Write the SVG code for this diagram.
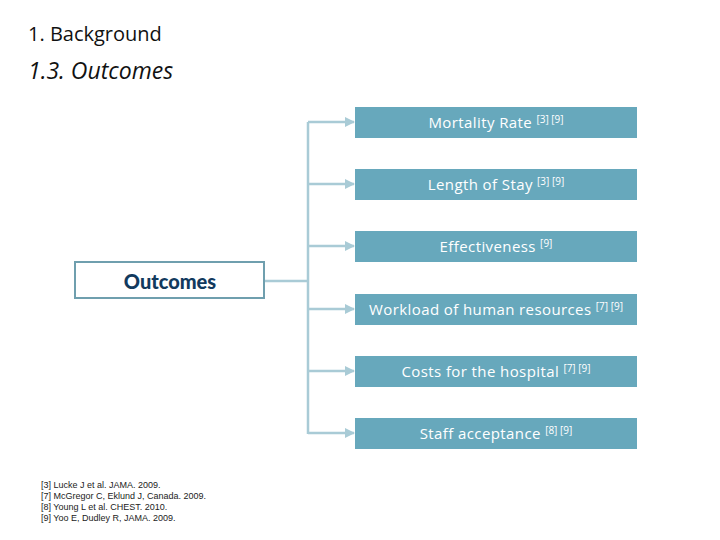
<svg xmlns="http://www.w3.org/2000/svg" width="720" height="540" viewBox="0 0 720 540">
<style>
.box{fill:#67a8bc}
.bt{font-family:"Open Sans","DejaVu Sans",sans-serif;font-size:15px;letter-spacing:0.4px;fill:#fff;text-anchor:middle}
.sup{font-size:10px;letter-spacing:0}
.ln{stroke:#a9cbd6;stroke-width:2.5;fill:none}
.ref{font-family:"Liberation Sans",sans-serif;font-size:9px;fill:#222}
</style>
<defs><marker id="ar" viewBox="0 0 10 10" refX="9" refY="5" markerWidth="4" markerHeight="4" orient="auto"><path d="M0,0L10,5L0,10z" fill="#a9cbd6"/></marker></defs>
<rect width="720" height="540" fill="#fff"/>
<text x="28" y="41" font-family="Open Sans,DejaVu Sans,sans-serif" font-size="20" fill="#111">1. Background</text>
<text x="28" y="79" font-family="Open Sans,DejaVu Sans,sans-serif" font-size="23" font-style="italic" fill="#111">1.3. Outcomes</text>
<g id="connectors">
<path class="ln" d="M264,281H308M308,122V434"/>
<path class="ln" marker-end="url(#ar)" d="M308,122H354"/>
<path class="ln" marker-end="url(#ar)" d="M308,184H354"/>
<path class="ln" marker-end="url(#ar)" d="M308,246H354"/>
<path class="ln" marker-end="url(#ar)" d="M308,309H354"/>
<path class="ln" marker-end="url(#ar)" d="M308,371H354"/>
<path class="ln" marker-end="url(#ar)" d="M308,433H354"/>
</g>
<g id="outcomes"><rect x="75" y="262" width="189" height="36" fill="#fff" stroke="#6f9fae" stroke-width="2"/><text x="170" y="289" text-anchor="middle" font-family="Lato,DejaVu Sans,sans-serif" font-weight="900" font-size="20" fill="#123a5e">Outcomes</text></g>
<g id="n1"><rect class="box" x="355" y="107" width="282" height="31"/><text class="bt" x="496" y="128">Mortality Rate <tspan class="sup" dy="-5">[3] [9]</tspan></text></g>
<g id="n2"><rect class="box" x="355" y="169" width="282" height="31"/><text class="bt" x="496" y="190">Length of Stay <tspan class="sup" dy="-5">[3] [9]</tspan></text></g>
<g id="n3"><rect class="box" x="355" y="231" width="282" height="31"/><text class="bt" x="496" y="252">Effectiveness  <tspan class="sup" dy="-5">[9]</tspan></text></g>
<g id="n4"><rect class="box" x="355" y="294" width="282" height="31"/><text class="bt" x="496" y="315">Workload of human resources <tspan class="sup" dy="-5">[7] [9]</tspan></text></g>
<g id="n5"><rect class="box" x="355" y="356" width="282" height="31"/><text class="bt" x="496" y="377">Costs for the hospital <tspan class="sup" dy="-5">[7] [9]</tspan></text></g>
<g id="n6"><rect class="box" x="355" y="418" width="282" height="31"/><text class="bt" x="496" y="439">Staff acceptance <tspan class="sup" dy="-5">[8] [9]</tspan></text></g>
<g id="refs">
<text class="ref" x="41" y="488">[3] Lucke J et al. JAMA. 2009.</text>
<text class="ref" x="41" y="499">[7] McGregor C, Eklund J, Canada. 2009.</text>
<text class="ref" x="41" y="510">[8] Young L et al. CHEST. 2010.</text>
<text class="ref" x="41" y="521">[9] Yoo E, Dudley R, JAMA. 2009.</text>
</g>
</svg>
